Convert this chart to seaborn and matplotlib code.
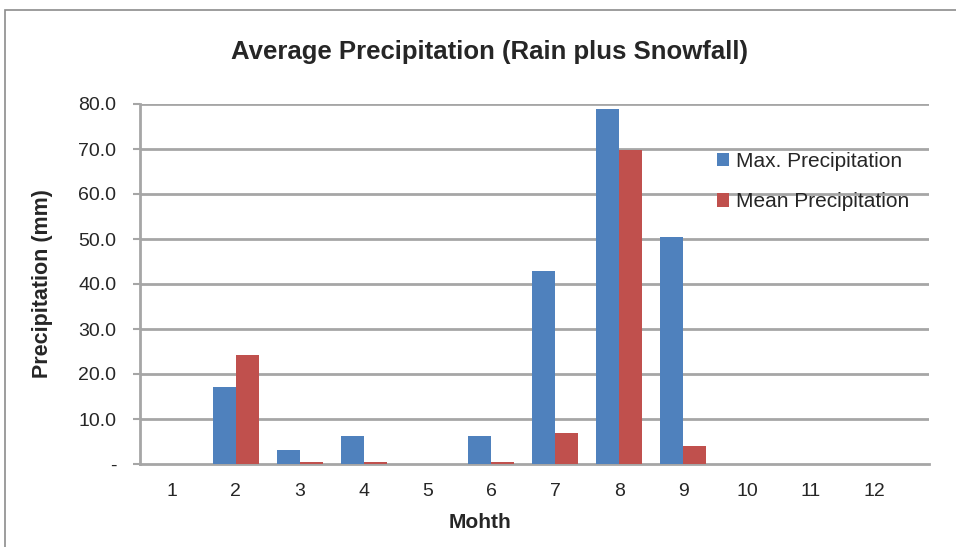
import matplotlib
matplotlib.use("Agg")
import matplotlib.pyplot as plt
from matplotlib.patches import Rectangle
import seaborn as sns
import pandas as pd

# data
months = ["1", "2", "3", "4", "5", "6", "7", "8", "9", "10", "11", "12"]
max_precip = [0.0, 17.1, 3.2, 6.3, 0.0, 6.3, 42.8, 79.0, 50.5, 0.0, 0.0, 0.0]
mean_precip = [0.0, 24.3, 0.4, 0.4, 0.0, 0.4, 7.0, 69.8, 4.0, 0.0, 0.0, 0.0]
series_names = ["Max. Precipitation", "Mean Precipitation"]
y_ticks = [0, 10, 20, 30, 40, 50, 60, 70, 80]
y_tick_labels = ["-", "10.0", "20.0", "30.0", "40.0", "50.0", "60.0", "70.0", "80.0"]

df = pd.DataFrame({"month": months * 2,
                   "value": max_precip + mean_precip,
                   "series": [series_names[0]] * 12 + [series_names[1]] * 12})

sns.set_style("white")
plt.rcParams["font.family"] = ["Liberation Sans Narrow", "Liberation Sans", "DejaVu Sans"]

fig = plt.figure(figsize=(9.56, 5.47), dpi=100)
# categories 64 px apart, first at x=172; extra room on the right like the 3D back wall
ax = fig.add_axes([140 / 956, 1 - 464 / 547, (929 - 140) / 956, (464 - 104) / 547])

grid_col = "#a6a6a6"
for t in y_ticks[1:]:
    ax.axhline(t, color=grid_col, lw=2, zorder=0)

sns.barplot(data=df, x="month", y="value", hue="series", order=months,
            palette=["#4f81bd", "#c0504d"], width=0.72, saturation=1,
            edgecolor="none", ax=ax, legend=True, zorder=3)

ax.set_ylim(0, 80)
ax.set_xlim(-0.5, 11.85)
ax.set_yticks(y_ticks)
ax.set_yticklabels(y_tick_labels, fontsize=14)
ax.tick_params(axis="x", labelsize=14, length=0, pad=14)
ax.tick_params(axis="y", length=5, width=1.5, color=grid_col, direction="out", pad=12, left=True)
for side in ["top", "right"]:
    ax.spines[side].set_visible(False)
for side in ["left", "bottom"]:
    ax.spines[side].set_color(grid_col)
    ax.spines[side].set_linewidth(2)

ax.set_xlabel("Mohth", fontsize=15, fontweight="bold")
ax.xaxis.set_label_coords((480 - 140) / 789, -0.135)
ax.xaxis.label.set_va("top")
ax.set_ylabel("Precipitation (mm)", fontsize=15.5, fontweight="bold", labelpad=18)

leg = ax.legend(loc="upper left", bbox_to_anchor=(0.707, 0.92), frameon=False,
                fontsize=15, handlelength=0.6, handleheight=0.6, handletextpad=0.35,
                labelspacing=1.05)

fig.text(0.512, 0.905, "Average Precipitation (Rain plus Snowfall)",
         ha="center", va="center", fontsize=18.5, fontweight="bold")

# outer chart frame
fig.patches.append(Rectangle((5 / 956, -0.01), 1.0, 1 - 10 / 547 + 0.01,
                             transform=fig.transFigure, fill=False,
                             edgecolor="#8c8c8c", lw=1.2))

fig.savefig("out.png", dpi=100, facecolor="white")
